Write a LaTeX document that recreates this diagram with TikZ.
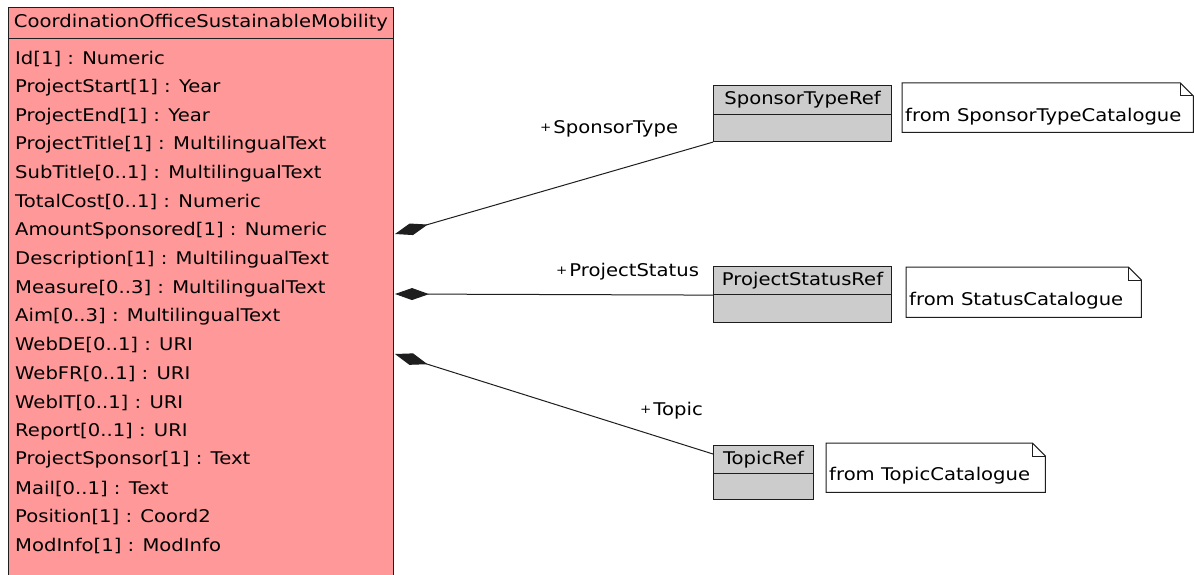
\documentclass[tikz,border=0pt]{standalone}
\usepackage{fontspec}
\setmainfont[FakeStretch=1.12]{DejaVu Sans}
\usetikzlibrary{arrows.meta}
\definecolor{classpink}{RGB}{255,153,153}
\definecolor{refgray}{RGB}{204,204,204}
\definecolor{umlline}{RGB}{30,30,30}
\newcommand{\pl}{\raisebox{2.5pt}{\fontsize{12}{12}\selectfont+}\hspace{2pt}}
\begin{document}
\begin{tikzpicture}[x=1pt,y=-1pt,
  font=\fontsize{17.5}{17.5}\selectfont,
  umlbox/.style={draw=umlline, line width=1.1pt, inner sep=0pt, anchor=north west},
  clsbox/.style={umlbox, fill=classpink, minimum width=385pt},
  refbox/.style={umlbox, fill=refgray},
  notebox/.style={inner sep=0pt, anchor=north west},
  txt/.style={anchor=west, inner sep=0pt, text=black},
  comp/.style={draw=umlline, line width=1pt, {Diamond[length=34pt,width=12pt]}-}
]
\clip (0,0) rectangle (1194,575);
\fill[white] (0,0) rectangle (1194,575);

% main class
\node[clsbox, minimum height=31pt] (clsh) at (8,7) {};
\node[clsbox, minimum height=570pt] (clsb) at (8,38) {};
\node[inner sep=0pt] (clsname) at (201,23) {CoordinationOfficeSustainableMobility};
\foreach \t [count=\i from 0] in {{Id[1] : Numeric},{ProjectStart[1] : Year},{ProjectEnd[1] : Year},
  {ProjectTitle[1] : MultilingualText},{SubTitle[0..1] : MultilingualText},{TotalCost[0..1] : Numeric},
  {AmountSponsored[1] : Numeric},{Description[1] : MultilingualText},{Measure[0..3] : MultilingualText},
  {Aim[0..3] : MultilingualText},{WebDE[0..1] : URI},{WebFR[0..1] : URI},{WebIT[0..1] : URI},
  {Report[0..1] : URI},{ProjectSponsor[1] : Text},{Mail[0..1] : Text},{Position[1] : Coord2},
  {ModInfo[1] : ModInfo}}
  \node[txt] (attr\i) at (15,59+28.65*\i) {\t};

% SponsorTypeRef
\node[refbox, minimum width=178pt, minimum height=29pt] (sth) at (713,85) {};
\node[refbox, minimum width=178pt, minimum height=27pt] (stb) at (713,114) {};
\node[inner sep=0pt] (stn) at (sth.center) {SponsorTypeRef};
% ProjectStatusRef
\node[refbox, minimum width=178pt, minimum height=28pt] (psh) at (713,266) {};
\node[refbox, minimum width=178pt, minimum height=28pt] (psb) at (713,294) {};
\node[inner sep=0pt] (psn) at (psh.center) {ProjectStatusRef};
% TopicRef
\node[refbox, minimum width=100pt, minimum height=28pt] (tph) at (713,445) {};
\node[refbox, minimum width=100pt, minimum height=26pt] (tpb) at (713,473) {};
\node[inner sep=0pt] (tpn) at (tph.center) {TopicRef};

% notes
\node[notebox, minimum width=291pt, minimum height=49pt] (n1) at (902,83) {};
\node[notebox, minimum width=235pt, minimum height=50pt] (n2) at (906,267) {};
\node[notebox, minimum width=219pt, minimum height=49pt] (n3) at (826,443) {};
\foreach \n in {n1,n2,n3}{
  \draw[draw=umlline, fill=white, line width=1pt] (\n.south west) -- (\n.north west) -- ([xshift=-13pt]\n.north east)
    -- ([yshift=-13pt]\n.north east) -- (\n.south east) -- cycle;
  \draw[draw=umlline, line width=1pt] ([xshift=-13pt]\n.north east) -- ([xshift=-13pt,yshift=-13pt]\n.north east)
    -- ([yshift=-13pt]\n.north east);
}
\node[txt] (n1t) at (905,117) {from SponsorTypeCatalogue};
\node[txt] (n2t) at (909,301) {from StatusCatalogue};
\node[txt] (n3t) at (829,476) {from TopicCatalogue};

% compositions
\coordinate (c1) at (395,234);
\coordinate (c2) at (395,294);
\coordinate (c3) at (395,354);
\coordinate (t3) at (713,454);
\draw[comp] (c1) -- (stb.south west);
\draw[comp] (c2) -- (psh.south west);
\draw[comp] (c3) -- (t3);

% role labels
\node[txt] (r1) at (540,129) {\pl SponsorType};
\node[txt] (r2) at (556,272) {\pl ProjectStatus};
\node[txt] (r3) at (640,411) {\pl Topic};
\end{tikzpicture}
\end{document}
